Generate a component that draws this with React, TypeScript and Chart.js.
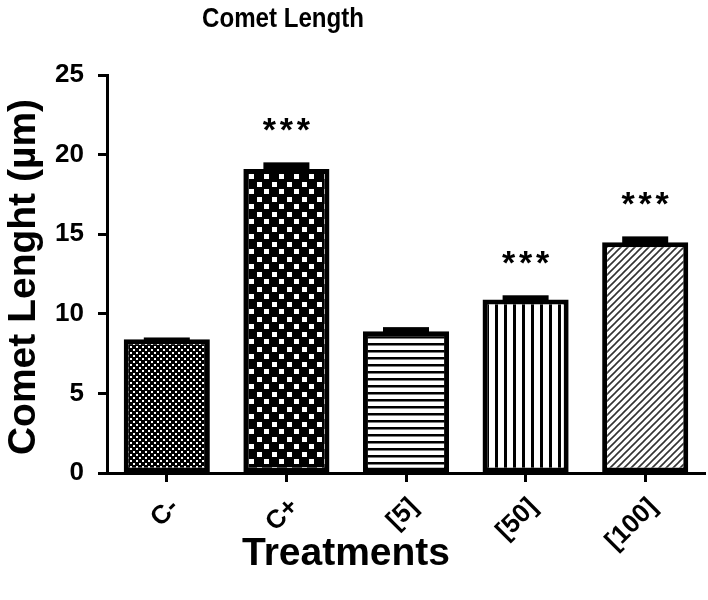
import React, { useEffect, useRef } from 'react';
import { Chart, registerables } from 'chart.js';

Chart.register(...registerables);

const categories = ['C-', 'C+', '[5]', '[50]', '[100]'];
const means = [8.4, 19.1, 8.9, 10.9, 14.5];
const sem = [0.05, 0.35, 0.2, 0.2, 0.3];
const significance = ['', '***', '', '***', '***'];
const patternKinds = ['dots', 'checker', 'hlines', 'vlines', 'diag'];

const FONT = '"Liberation Sans", Arial, Helvetica, sans-serif';

function makePattern(kind: string): CanvasPattern | string {
  const c = document.createElement('canvas');
  const ctx = c.getContext('2d');
  if (!ctx) return '#000';
  if (kind === 'dots') {
    c.width = 6; c.height = 6;
    ctx.fillStyle = '#000'; ctx.fillRect(0, 0, 6, 6);
    ctx.fillStyle = '#fff';
    ctx.fillRect(1, 1, 2, 2);
    ctx.fillRect(4, 4, 2, 2);
  } else if (kind === 'checker') {
    c.width = 15; c.height = 15;
    ctx.fillStyle = '#000'; ctx.fillRect(0, 0, 15, 15);
    ctx.fillStyle = '#fff';
    ctx.fillRect(2, 2, 5, 5);
    ctx.fillRect(9, 9, 5, 5);
  } else if (kind === 'hlines') {
    c.width = 8; c.height = 7;
    ctx.fillStyle = '#fff'; ctx.fillRect(0, 0, 8, 7);
    ctx.fillStyle = '#000'; ctx.fillRect(0, 0, 8, 2.5);
  } else if (kind === 'vlines') {
    c.width = 9; c.height = 8;
    ctx.fillStyle = '#fff'; ctx.fillRect(0, 0, 9, 8);
    ctx.fillStyle = '#000'; ctx.fillRect(0, 0, 3, 8);
  } else {
    c.width = 7; c.height = 7;
    ctx.fillStyle = '#fff'; ctx.fillRect(0, 0, 7, 7);
    ctx.strokeStyle = '#333'; ctx.lineWidth = 1.6;
    ctx.beginPath();
    ctx.moveTo(-1, 8); ctx.lineTo(8, -1);
    ctx.moveTo(-1, 1); ctx.lineTo(1, -1);
    ctx.moveTo(6, 8); ctx.lineTo(8, 6);
    ctx.stroke();
  }
  const p = ctx.createPattern(c, 'repeat');
  return p || '#000';
}

const errorStarsPlugin = {
  id: 'errorStars',
  afterDatasetsDraw(chart: any) {
    const ctx = chart.ctx;
    const y = chart.scales.y;
    const meta = chart.getDatasetMeta(0);
    ctx.save();
    meta.data.forEach((bar: any, i: number) => {
      const x = bar.x;
      const yTop = y.getPixelForValue(means[i] + sem[i]);
      const yVal = y.getPixelForValue(means[i]);
      ctx.fillStyle = '#000';
      ctx.fillRect(x - 23, yTop - 1, 46, Math.max(yVal - yTop + 3, 4));
      if (significance[i]) {
        ctx.font = `bold 34px ${FONT}`;
        ctx.textAlign = 'center';
        ctx.textBaseline = 'middle';
        const n = significance[i].length;
        for (let k = 0; k < n; k++) {
          ctx.fillText('*', x + (k - (n - 1) / 2) * 17, yTop - 32);
        }
      }
    });
    ctx.restore();
  },
};

const titlesPlugin = {
  id: 'titles',
  afterDraw(chart: any) {
    const ctx = chart.ctx;
    ctx.save();
    ctx.fillStyle = '#000';
    ctx.textAlign = 'center';
    ctx.save();
    ctx.textBaseline = 'alphabetic';
    ctx.translate(283, 27);
    ctx.scale(0.86, 1);
    ctx.font = `bold 28px ${FONT}`;
    ctx.fillText('Comet Length', 0, 0);
    ctx.restore();
    ctx.textBaseline = 'middle';
    ctx.font = `bold 39px ${FONT}`;
    ctx.fillText('Treatments', 346, 554);
    ctx.translate(24, 277);
    ctx.rotate(-Math.PI / 2);
    ctx.fillText('Comet Lenght (µm)', 0, 0);
    ctx.restore();
  },
};

export default function App() {
  const ref = useRef<HTMLCanvasElement>(null);
  useEffect(() => {
    document.body.style.margin = '0';
    if (!ref.current) return;
    Chart.defaults.font.family = FONT;
    Chart.defaults.color = '#000';
    const chart = new Chart(ref.current, {
      type: 'bar',
      data: {
        labels: categories,
        datasets: [
          {
            data: means,
            backgroundColor: patternKinds.map((k) => makePattern(k)) as any,
            borderColor: '#000',
            borderWidth: 5,
            borderSkipped: false,
            barPercentage: 0.72,
            categoryPercentage: 1,
          },
        ],
      },
      options: {
        responsive: false,
        animation: false,
        layout: { padding: { top: 75, right: 3, left: 0, bottom: 0 } },
        plugins: { legend: { display: false }, title: { display: false }, tooltip: { enabled: false } },
        scales: {
          x: {
            afterFit: (s: any) => { s.height = 127; },
            grid: { display: true, offset: false, drawOnChartArea: false, drawTicks: true, tickLength: 9, tickWidth: 3, tickColor: '#000' },
            border: { display: true, color: '#000', width: 3 },
            ticks: { font: { size: 26, weight: 'bold' }, minRotation: 45, maxRotation: 45, padding: 10, labelOffset: 8, color: '#000' },
          },
          y: {
            min: 0,
            max: 25,
            afterFit: (s: any) => { s.width = 107; },
            grid: { display: true, drawOnChartArea: false, drawTicks: true, tickLength: 9, tickWidth: 3, tickColor: '#000' },
            border: { display: true, color: '#000', width: 3 },
            ticks: { stepSize: 5, font: { size: 26, weight: 'bold' }, padding: 14, color: '#000' },
          },
        },
      },
      plugins: [errorStarsPlugin, titlesPlugin],
    });
    return () => chart.destroy();
  }, []);
  return (
    <div style={{ width: 708, height: 600, background: '#fff' }}>
      <canvas ref={ref} width={708} height={600} style={{ display: 'block' }} />
    </div>
  );
}
